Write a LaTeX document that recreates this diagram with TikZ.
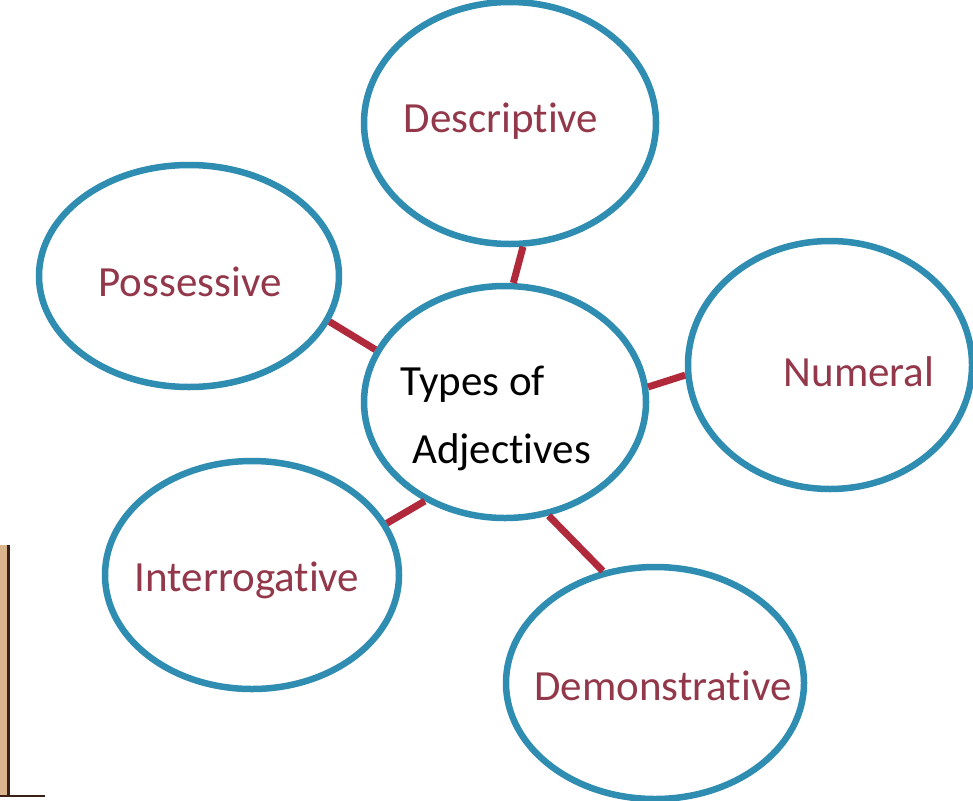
\documentclass[tikz,border=0pt]{standalone}
\usepackage{fontspec}
\setmainfont[Ligatures=NoCommon]{Carlito}
\usetikzlibrary{shapes.geometric}
\definecolor{ringblue}{HTML}{2E8DB0}
\definecolor{linkred}{HTML}{B02A3C}
\definecolor{wordred}{HTML}{93384A}
\definecolor{tan}{HTML}{D9B48C}
\definecolor{darkbrown}{HTML}{3A1E18}
\tikzset{
  ring/.style={draw=ringblue, line width=6.5pt, ellipse, inner sep=0pt, fill=white},
  word/.style={text=wordred, font=\fontsize{43}{47}\selectfont, inner sep=0pt},
  mainword/.style={text=black, font=\fontsize{43}{47}\selectfont, inner sep=0pt, anchor=west},
  link/.style={draw=linkred, line width=7pt}
}
\begin{document}
\begin{tikzpicture}[x=1pt,y=-1pt]
\useasboundingbox (0,0) rectangle (973,800);
\fill[white] (0,0) rectangle (973,800);
% left edge artifact
\fill[tan] (0,545) rectangle (7,795);
\draw[darkbrown, line width=3pt] (8,545) -- (8,795);
\draw[darkbrown, line width=2pt] (0,796) -- (45,796);
% rings
\node[ring, minimum width=292pt, minimum height=242pt] (desc) at (510,123) {};
\node[ring, minimum width=300pt, minimum height=222pt] (poss) at (189,276) {};
\node[ring, minimum width=284pt, minimum height=248pt] (num) at (830,365) {};
\node[ring, minimum width=294pt, minimum height=228pt] (inter) at (252,575) {};
\node[ring, minimum width=298pt, minimum height=232pt] (demo) at (655,683) {};
\node[ring, minimum width=282pt, minimum height=232pt] (core) at (505,402) {};
% links
\draw[link] (desc.-84) -- (core.86);
\draw[link] (poss.-18) -- (core.158);
\draw[link] (core.6) -- (num.184);
\draw[link] (inter.21) -- (core.-129);
\draw[link] (core.-69) -- (demo.115);
% labels
\node[word] (tdesc) at (501,121) {Descriptive};
\node[word] (tposs) at (190,282) {Possessive};
\node[word] (tnum) at (859,372) {Numeral};
\node[word] (tinter) at (247,580) {Interrogative};
\node[word] (tdemo) at (663,686) {Demonstrative};
\node[mainword] (ttypes) at (400,384) {Types of};
\node[mainword] (tadj) at (412,452) {Adjectives};
\end{tikzpicture}
\end{document}
